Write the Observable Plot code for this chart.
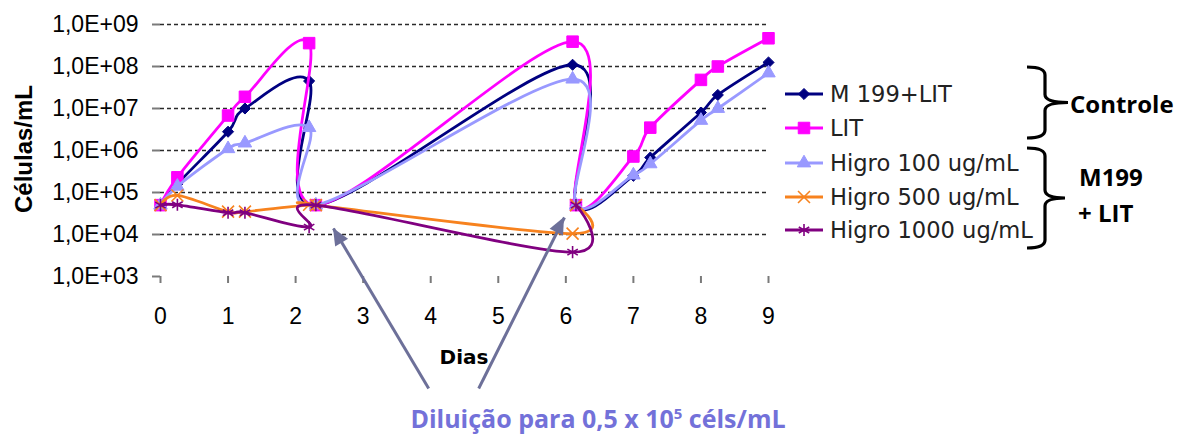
<!DOCTYPE html>
<html>
<head>
<meta charset="utf-8">
<script src="https://cdn.jsdelivr.net/npm/d3@7"></script>
<script src="https://cdn.jsdelivr.net/npm/@observablehq/plot@0.6"></script>
<style>
  body { margin: 0; background: #fff; }
  #chart svg { display: block; }
</style>
</head>
<body>
<div id="chart"></div>
<script>
// Sampling days (each culture is diluted back to 0.5 x 10^5 cells/mL right after days 2.2 and 6.1)
const days = [0, 0.25, 1, 1.25, 2.2, 2.3, 6.1, 6.15, 7, 7.25, 8, 8.25, 9];
const daysHighDose = [0, 0.25, 1, 1.25, 2.2, 2.3, 6.1, 6.15];

// Cell density (cells/mL) per condition
const m199Lit    = [5e4, 1.6e5, 2.8e6, 1e7, 4.5e7, 5e4, 1.1e8, 5e4, 2.5e5, 6.8e5, 8e6, 2.1e7, 1.25e8];
const lit        = [5e4, 2.3e5, 6.8e6, 1.9e7, 3.6e8, 5e4, 3.9e8, 5e4, 7.2e5, 3.5e6, 4.8e7, 1e8, 4.7e8];
const higro100   = [5e4, 1.4e5, 1.1e6, 1.5e6, 3.5e6, 5e4, 5e7, 5e4, 2.6e5, 4.8e5, 5.2e6, 1e7, 7e7];
const higro500   = [5e4, 8.5e4, 3.5e4, 3.5e4, 5.1e4, 5e4, 1.05e4, 5e4];
const higro1000  = [5e4, 5.1e4, 3.3e4, 3.3e4, 1.5e4, 5e4, 3.8e3, 5e4];

const seriesNames   = ["M 199+LIT", "LIT", "Higro 100 ug/mL", "Higro 500 ug/mL", "Higro 1000 ug/mL"];
const seriesValues  = [m199Lit, lit, higro100, higro500, higro1000];
const seriesDays    = [days, days, days, daysHighDose, daysHighDose];
const seriesColors  = ["#000080", "#ff00ff", "#9999ff", "#f7821e", "#800080"];
const seriesSymbols = ["diamond2", "square", "triangle", "times", "asterisk"];
const seriesFilled  = [true, true, true, false, false];
const symbolRadii   = [5, 6.5, 5, 5.5, 5.7];

// Axes
const xTicks = [0, 1, 2, 3, 4, 5, 6, 7, 8, 9];
const yTicks = [1e3, 1e4, 1e5, 1e6, 1e7, 1e8, 1e9];
const yTickLabels = ["1,0E+03", "1,0E+04", "1,0E+05", "1,0E+06", "1,0E+07", "1,0E+08", "1,0E+09"];

// Dilution arrows (tail below the axis, head at the dilution point)
const arrowTailDays  = [3.97, 4.71];
const arrowTailCells = [2.15, 2.15];
const arrowTipDays   = [2.56, 5.98];
const arrowTipCells  = [1.39e4, 2.54e4];

// Group brackets beside the legend
const groupLabels = [["Controle"], ["M199", "+ LIT"]];

const rowsFor = (i) => seriesDays[i].map((d, j) => ({series: seriesNames[i], day: d, cells: seriesValues[i][j]}));
const arrows = arrowTailDays.map((d, i) => ({x1: d, y1: arrowTailCells[i], x2: arrowTipDays[i], y2: arrowTipCells[i]}));

const W = 1198, H = 437;
const frameLeft = 160, frameRight = 768, frameTop = 24, frameBottom = 276;

const seriesMarks = seriesNames.flatMap((name, i) => {
  const rows = rowsFor(i);
  return [
    Plot.line(rows, {x: "day", y: "cells", stroke: seriesColors[i], strokeWidth: 2.8, curve: "cardinal"}),
    Plot.dot(rows, {
      x: "day", y: "cells", symbol: seriesSymbols[i], r: symbolRadii[i],
      fill: seriesFilled[i] ? seriesColors[i] : "none",
      stroke: seriesColors[i], strokeWidth: seriesFilled[i] ? 1 : 1.6
    })
  ];
});

const arrowColor = "#6d7099";

const plot = Plot.plot({
  width: W,
  height: H,
  marginLeft: frameLeft,
  marginRight: W - frameRight,
  marginTop: frameTop,
  marginBottom: H - frameBottom,
  style: {fontFamily: "'Liberation Sans', Arial, sans-serif", fontSize: "23px", background: "#fff", color: "#000"},
  x: {domain: [0, 9]},
  y: {type: "log", domain: [1e3, 1e9]},
  marks: [
    Plot.ruleY(yTicks.slice(1), {stroke: "#2a2a2a", strokeWidth: 1.5, strokeDasharray: "4,3"}),
    Plot.axisX({ticks: xTicks, tickFormat: d => String(d), tickSize: 7, tickPadding: 24, label: null,
                stroke: "#7a7a7a", strokeWidth: 2, line: true}),
    Plot.axisY({ticks: yTicks, tickFormat: d => yTickLabels[yTicks.indexOf(d)], tickSize: 8, tickPadding: 14,
                label: null, stroke: "#7a7a7a", strokeWidth: 2, line: true}),
    ...seriesMarks,
    Plot.link(arrows, {x1: "x1", y1: "y1", x2: "x2", y2: "y2", stroke: arrowColor, strokeWidth: 3})
  ]
});

document.getElementById("chart").appendChild(plot);
const svg = d3.select(plot);
const sx = plot.scale("x"), sy = plot.scale("y");

// Filled arrowheads at the dilution points
arrows.forEach(a => {
  const x1 = sx.apply(a.x1), y1 = sy.apply(a.y1), x2 = sx.apply(a.x2), y2 = sy.apply(a.y2);
  const ang = Math.atan2(y2 - y1, x2 - x1), len = 17, half = 7.5;
  const bx = x2 - len * Math.cos(ang), by = y2 - len * Math.sin(ang);
  const px = -Math.sin(ang) * half, py = Math.cos(ang) * half;
  svg.append("path")
    .attr("d", `M${x2},${y2} L${bx + px},${by + py} L${bx - px},${by - py} Z`)
    .attr("fill", arrowColor);
});

// Axis titles
svg.append("text")
  .attr("transform", "translate(23,149) rotate(-90)")
  .attr("text-anchor", "middle").attr("dominant-baseline", "central")
  .style("font", "bold 24px 'Liberation Sans', Arial, sans-serif")
  .text("Células/mL");
svg.append("text")
  .attr("x", (frameLeft + frameRight) / 2).attr("y", 357)
  .attr("text-anchor", "middle").attr("dominant-baseline", "central")
  .style("font", "bold 20px 'DejaVu Sans', sans-serif")
  .text("Dias");

// Legend
const legendRows = [94, 128, 163, 197, 230];
const legend = svg.append("g").attr("text-anchor", "start");
const symbolTypes = {diamond2: d3.symbolDiamond2, square: d3.symbolSquare, triangle: d3.symbolTriangle,
                     times: d3.symbolTimes, asterisk: d3.symbolAsterisk};
seriesNames.forEach((name, i) => {
  const g = legend.append("g").attr("transform", `translate(0,${legendRows[i]})`);
  g.append("line").attr("x1", 785).attr("x2", 823).attr("stroke", seriesColors[i]).attr("stroke-width", 2.8);
  g.append("path")
    .attr("transform", "translate(804,0)")
    .attr("d", d3.symbol(symbolTypes[seriesSymbols[i]], symbolRadii[i] * symbolRadii[i] * Math.PI)())
    .attr("fill", seriesFilled[i] ? seriesColors[i] : "none")
    .attr("stroke", seriesColors[i]).attr("stroke-width", seriesFilled[i] ? 1 : 1.6);
  g.append("text").attr("x", 830).attr("dominant-baseline", "central")
    .style("font", "22.6px 'DejaVu Sans', sans-serif").attr("fill", "#222")
    .text(name);
});

// Curly brackets grouping the legend entries
function brace(y0, y1, xs, xv, xt) {
  const ym = (y0 + y1) / 2, r = 8;
  return `M${xs},${y0} Q${xv},${y0} ${xv},${y0 + r} L${xv},${ym - r} Q${xv},${ym} ${xt},${ym}`
       + ` Q${xv},${ym} ${xv},${ym + r} L${xv},${y1 - r} Q${xv},${y1} ${xs},${y1}`;
}
svg.append("path").attr("d", brace(67, 138, 1027, 1045, 1068))
  .attr("fill", "none").attr("stroke", "#000").attr("stroke-width", 3.2);
svg.append("path").attr("d", brace(148, 248, 1027, 1045, 1065))
  .attr("fill", "none").attr("stroke", "#000").attr("stroke-width", 3.2);

const groups = svg.append("g").attr("text-anchor", "start")
  .style("font", "bold 24px 'Open Sans', sans-serif").attr("fill", "#000");
groups.append("text").attr("x", 1070).attr("y", 103).attr("dominant-baseline", "central").text(groupLabels[0][0]);
groups.append("text").attr("x", 1079).attr("y", 176).attr("dominant-baseline", "central").text(groupLabels[1][0]);
groups.append("text").attr("x", 1078).attr("y", 212).attr("dominant-baseline", "central").text(groupLabels[1][1]);

// Caption for the dilution arrows
const cap = svg.append("text").attr("x", 598).attr("y", 428).attr("text-anchor", "middle")
  .style("font", "bold 25px 'Open Sans', sans-serif").attr("fill", "#7371d9");
cap.append("tspan").text("Diluição para 0,5 x 10");
cap.append("tspan").attr("dy", -9).style("font-size", "15px").text("5");
cap.append("tspan").attr("dy", 9).text(" céls/mL");
</script>
</body>
</html>
